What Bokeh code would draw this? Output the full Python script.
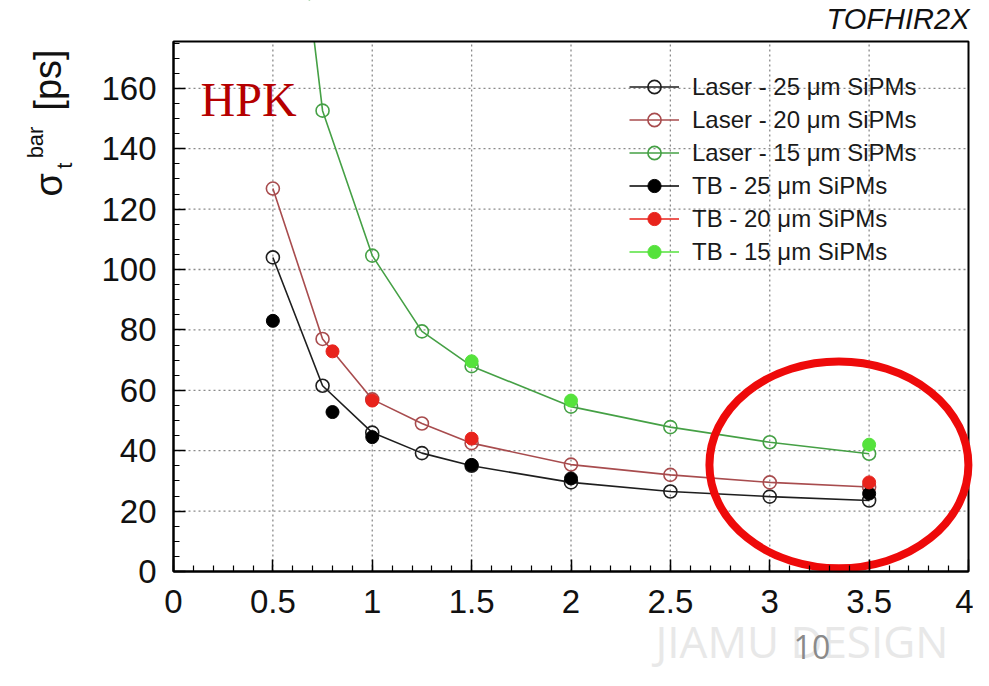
import math
from bokeh.plotting import figure
from bokeh.models import (Range1d, FixedTicker, Legend, LegendItem, Label, LinearAxis)
from bokeh.embed import file_html
from bokeh.resources import INLINE

# ---------------- data ----------------
laser_x = [0.5, 0.75, 1.0, 1.25, 1.5, 2.0, 2.5, 3.0, 3.5]
laser_25 = [104.0, 61.5, 46.0, 39.2, 35.0, 29.5, 26.5, 24.8, 23.5]
laser_20 = [126.8, 77.0, 57.0, 49.0, 42.5, 35.4, 32.0, 29.5, 28.0]
laser_15 = [290.0, 152.6, 104.6, 79.5, 68.0, 54.6, 47.8, 42.8, 39.0]

tb25_x = [0.5, 0.8, 1.0, 1.5, 2.0, 3.5]
tb_25 = [83.0, 52.8, 44.5, 35.3, 30.8, 25.8]
tb20_x = [0.8, 1.0, 1.5, 3.5]
tb_20 = [72.9, 56.6, 44.0, 29.5]
tb15_x = [1.5, 2.0, 3.5]
tb_15 = [69.6, 56.6, 42.0]

x_ticks = [0, 0.5, 1, 1.5, 2, 2.5, 3, 3.5, 4]
y_ticks = [0, 20, 40, 60, 80, 100, 120, 140, 160]
x_grid = [0.5, 1, 1.5, 2, 2.5, 3, 3.5]
y_grid = [20, 40, 60, 80, 100, 120, 140, 160]

labels = ["Laser - 25 \u03bcm SiPMs", "Laser - 20 \u03bcm SiPMs", "Laser - 15 \u03bcm SiPMs",
          "TB - 25 \u03bcm SiPMs", "TB - 20 \u03bcm SiPMs", "TB - 15 \u03bcm SiPMs"]

# plot-area limits (data units)
X0, X1 = 0.0, 4.0
Y0, Y1 = 0.0, 175.5

FONT = "Liberation Sans"
W, H = 973, 670
PX_X, PX_Y = 198.75, 3.02          # pixels per data unit
LEFT_PX, BOTTOM_PX = 173, 571       # where (0, 0) sits on the canvas

p = figure(width=W, height=H, output_backend="svg", toolbar_location=None,
           x_axis_type=None, y_axis_type=None,
           x_range=Range1d(-LEFT_PX / PX_X, (W - LEFT_PX) / PX_X),
           y_range=Range1d((BOTTOM_PX - H) / PX_Y, BOTTOM_PX / PX_Y),
           min_border=0)
p.background_fill_color = "white"
p.border_fill_color = "white"
p.outline_line_color = None
p.xgrid.visible = False
p.ygrid.visible = False

# dotted grid inside the plot area
p.segment(x0=x_grid, y0=[Y0] * len(x_grid), x1=x_grid, y1=[Y1] * len(x_grid),
          line_color="#8a8a8a", line_dash="2 3", line_width=1.3)
p.segment(x0=[X0] * len(y_grid), y0=y_grid, x1=[X1] * len(y_grid), y1=y_grid,
          line_color="#8a8a8a", line_dash="2 3", line_width=1.3)

c25, c20, c15 = "#1e1e1e", "#a84c4e", "#45a045"
f25, f20, f15 = "#000000", "#e8231c", "#55e23c"

l1 = p.line(laser_x, laser_25, line_color=c25, line_width=1.6)
l2 = p.line(laser_x, laser_20, line_color=c20, line_width=1.6)
l3 = p.line(laser_x, laser_15, line_color=c15, line_width=1.6)

# white mask above the plot area (keeps curves inside the box)
p.quad(left=[X0 - 0.05], right=[X1 + 0.05], bottom=[Y1], top=[BOTTOM_PX / PX_Y],
       fill_color="white", line_color=None)

m1 = p.scatter(laser_x, laser_25, marker="circle", size=13, fill_color="white", fill_alpha=0,
               line_color=c25, line_width=1.6)
m2 = p.scatter(laser_x, laser_20, marker="circle", size=13, fill_color="white", fill_alpha=0,
               line_color=c20, line_width=1.6)
m3 = p.scatter(laser_x, laser_15, marker="circle", size=13, fill_color="white", fill_alpha=0,
               line_color=c15, line_width=1.6)

t1 = p.scatter(tb25_x, tb_25, marker="circle", size=13, fill_color=f25, line_color=f25)
t2 = p.scatter(tb20_x, tb_20, marker="circle", size=13, fill_color=f20, line_color=f20)
t3 = p.scatter(tb15_x, tb_15, marker="circle", size=13, fill_color=f15, line_color=f15)

# legend-only line renderers for TB entries (nothing drawn in the plot)
nan = float("nan")
e1 = p.line(x=[nan, nan], y=[nan, nan], line_color=f25, line_width=1.6)
e2 = p.line(x=[nan, nan], y=[nan, nan], line_color=f20, line_width=1.6)
e3 = p.line(x=[nan, nan], y=[nan, nan], line_color=f15, line_width=1.6)

# box around plot area
p.quad(left=[X0], right=[X1], bottom=[Y0], top=[Y1], fill_alpha=0,
       line_color="black", line_width=2)

# axes placed at the plot-area edges
yax = LinearAxis(fixed_location=X0, bounds=(Y0, Y1))
xax = LinearAxis(fixed_location=Y0, bounds=(X0, X1))
p.add_layout(yax, "left")
p.add_layout(xax, "below")
for ax, ticks, minor in ((xax, x_ticks, [i / 10 for i in range(0, 41)]),
                         (yax, y_ticks, [i * 5 for i in range(0, 36)])):
    ax.ticker = FixedTicker(ticks=ticks, minor_ticks=minor)
    ax.axis_line_width = 2
    ax.axis_line_color = "black"
    ax.major_tick_in = 12
    ax.major_tick_out = 0
    ax.minor_tick_in = 6
    ax.minor_tick_out = 0
    ax.major_tick_line_width = 1.5
    ax.minor_tick_line_width = 1.2
    ax.major_label_text_font = FONT
    ax.major_label_text_font_size = "33px"
    ax.major_label_text_color = "#111111"
xax.major_label_standoff = 18
yax.major_label_standoff = 17
xax.major_label_overrides = {0: "0", 1: "1", 2: "2", 3: "3", 4: "4"}

items = [LegendItem(label=labels[0], renderers=[l1, m1]),
         LegendItem(label=labels[1], renderers=[l2, m2]),
         LegendItem(label=labels[2], renderers=[l3, m3]),
         LegendItem(label=labels[3], renderers=[e1, t1]),
         LegendItem(label=labels[4], renderers=[e2, t2]),
         LegendItem(label=labels[5], renderers=[e3, t3])]
legend = Legend(items=items, location=(629, 402), padding=0, margin=0, spacing=0,
                glyph_width=50, glyph_height=33, label_height=33, label_standoff=13,
                label_text_font=FONT, label_text_font_size="24px", label_text_color="#1a1a1a",
                background_fill_alpha=0, border_line_alpha=0)
p.add_layout(legend, "center")

# red highlight ellipse
p.ellipse(x=3.348, y=35.3, width=1.303, height=68.5, fill_alpha=0,
          line_color="#ee0a0a", line_width=8)

# texts
p.add_layout(Label(x=0.136, y=156.3, text="HPK", text_font="Liberation Serif",
                   text_font_size="48px", text_color="#b50000", text_baseline="alphabetic"))
p.add_layout(Label(x=4.005, y=182.9, text="TOFHIR2X", text_font=FONT, text_font_style="italic",
                   text_font_size="29px", text_color="#111111", text_align="right",
                   text_baseline="alphabetic"))

rot = math.pi / 2
p.add_layout(Label(x=-0.626, y=124.2, text="\u03c3", angle=rot, text_font=FONT,
                   text_font_size="38px", text_color="#111111", text_baseline="alphabetic"))
p.add_layout(Label(x=-0.694, y=136.8, text="bar", angle=rot, text_font=FONT,
                   text_font_size="22px", text_color="#111111", text_baseline="alphabetic"))
p.add_layout(Label(x=-0.548, y=133.4, text="t", angle=rot, text_font=FONT,
                   text_font_size="22px", text_color="#111111", text_baseline="alphabetic"))
p.add_layout(Label(x=-0.629, y=152.6, text="[ps]", angle=rot, text_font=FONT,
                   text_font_size="38px", text_color="#111111", text_baseline="alphabetic"))

p.add_layout(Label(x=2.425, y=-23.0, text="JIAMU DESIGN", text_font="Open Sans",
                   text_font_size="44px", text_color="#e8e8e8", text_baseline="alphabetic"))
p.add_layout(Label(x=3.12, y=-25.1, text="10", text_font="Open Sans",
                   text_font_size="32px", text_color="#8a8a8a", text_baseline="alphabetic"))

open("out.html", "w").write(file_html(p, INLINE))
